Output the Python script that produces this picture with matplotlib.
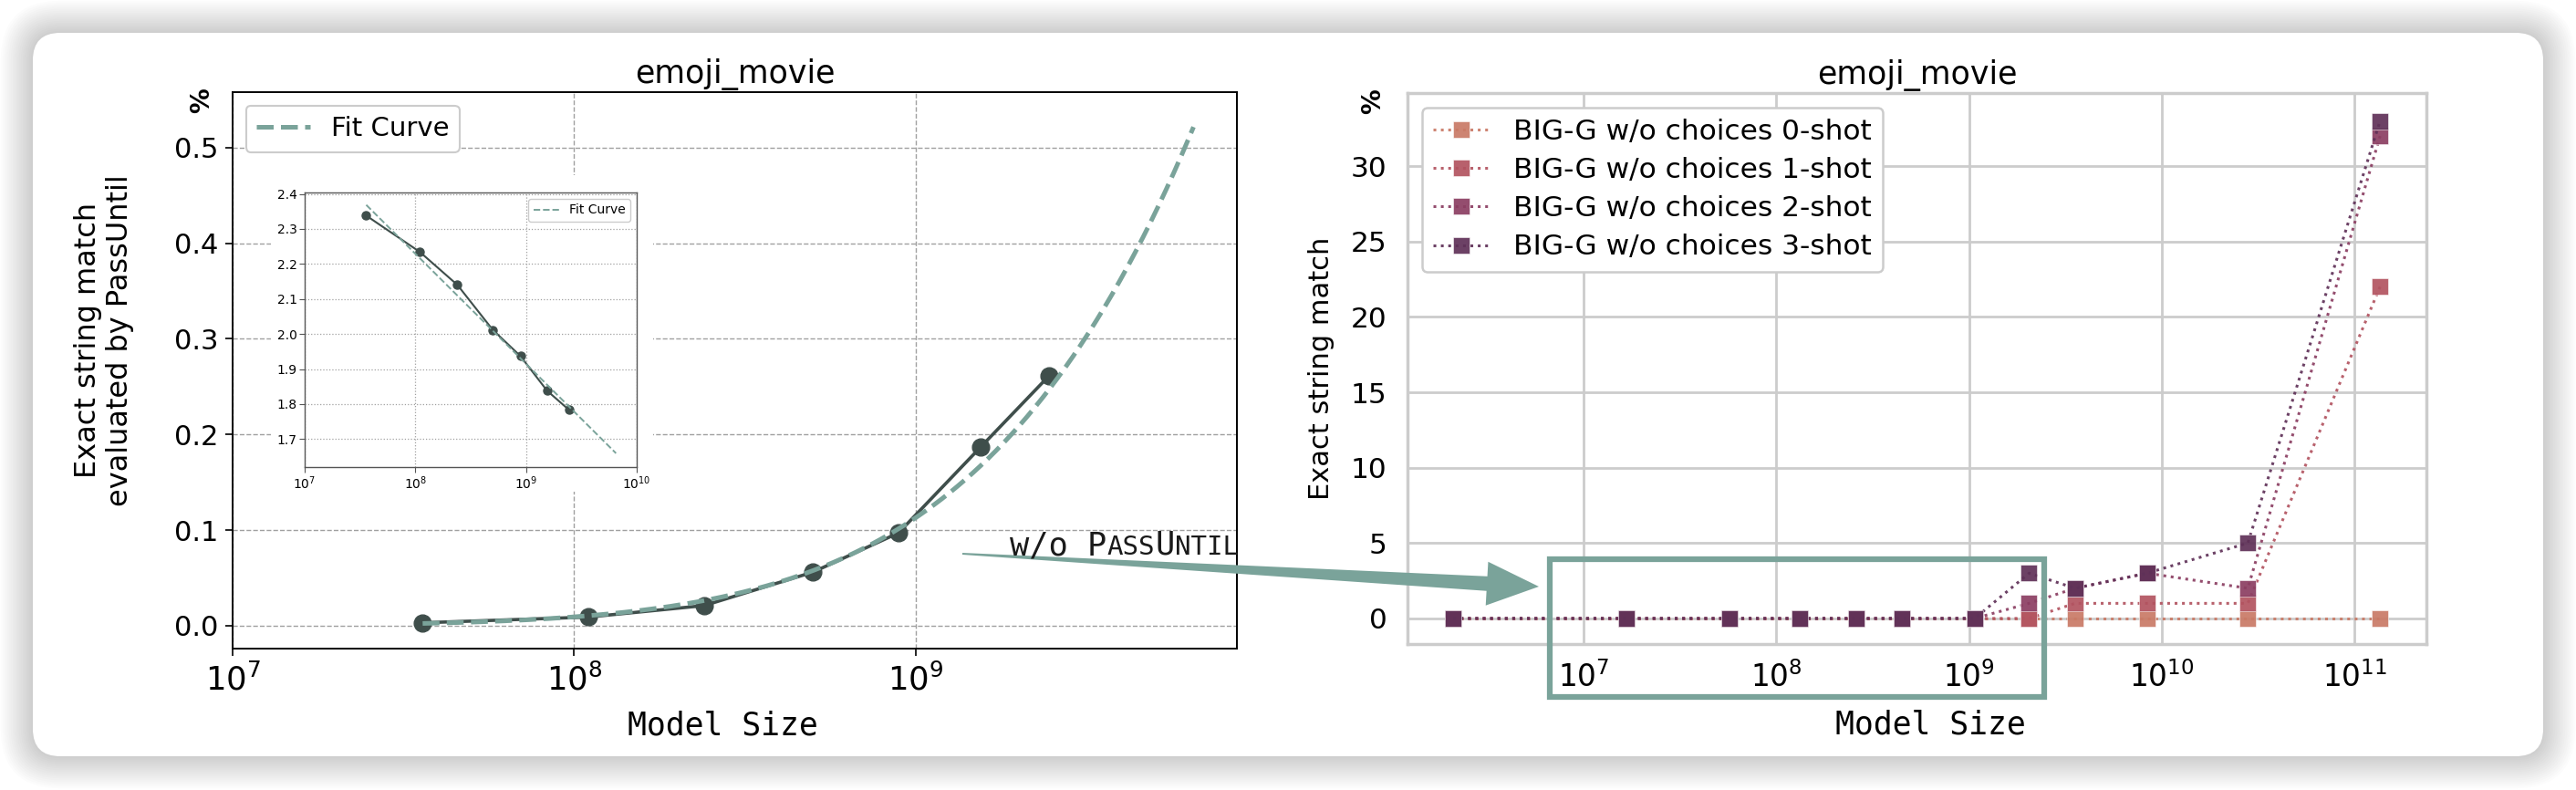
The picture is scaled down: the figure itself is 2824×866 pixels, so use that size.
import numpy as np
import matplotlib
matplotlib.use("Agg")
import matplotlib.pyplot as plt
from matplotlib.patches import FancyBboxPatch, Rectangle, Polygon
from matplotlib.transforms import IdentityTransform
from matplotlib.ticker import FixedLocator, NullLocator

# ---- data: PassUntil evaluation (left) ----
pu_sizes = [3.6e7, 1.1e8, 2.4e8, 5.0e8, 8.9e8, 1.55e9, 2.45e9]
pu_match = [0.003, 0.009, 0.021, 0.056, 0.097, 0.187, 0.261]   # %
inset_vals = [2.338, 2.234, 2.140, 2.012, 1.937, 1.838, 1.783]  # ln(-ln p)
fit_end = 6.5e9

# ---- data: BIG-G w/o choices (right) ----
bigg_sizes = [2.1e6, 1.67e7, 5.7e7, 1.32e8, 2.6e8, 4.5e8, 1.07e9,
              2.05e9, 3.55e9, 8.4e9, 2.8e10, 1.36e11]
shot_labels = ["BIG-G w/o choices 0-shot", "BIG-G w/o choices 1-shot",
               "BIG-G w/o choices 2-shot", "BIG-G w/o choices 3-shot"]
shot0 = [0, 0, 0, 0, 0, 0, 0, 0, 0, 0, 0, 0]
shot1 = [0, 0, 0, 0, 0, 0, 0, 0, 1, 1, 1, 22]
shot2 = [0, 0, 0, 0, 0, 0, 0, 1, 2, 3, 2, 32]
shot3 = [0, 0, 0, 0, 0, 0, 0, 3, 2, 3, 5, 33]
shot_colors = ["#c97a66", "#b25360", "#8b3e62", "#5f3158"]

W, H = 2824, 866
teal = "#7aa39a"
dark = "#3f4e4b"

plt.rcParams["font.family"] = "DejaVu Sans"
fig = plt.figure(figsize=(W / 100, H / 100), dpi=100)
fig.patch.set_facecolor("white")


def frac(x0, y0, x1, y1):
    # pixel box (top-left origin) -> figure fraction [l, b, w, h]
    return [x0 / W, 1 - y1 / H, (x1 - x0) / W, (y1 - y0) / H]


# card + soft shadow
r = 30
cx0, cy0, cx1, cy1 = 36, 37, 2788, 830
for i in range(16, 0, -1):
    p = r + i * 2.2
    fig.add_artist(FancyBboxPatch((cx0 + r, cy0 + r), cx1 - cx0 - 2 * r, cy1 - cy0 - 2 * r,
                                  boxstyle=f"round,pad={p},rounding_size={p}",
                                  transform=IdentityTransform(), fc="black", ec="none",
                                  alpha=0.012, zorder=-20))
fig.add_artist(FancyBboxPatch((cx0 + r, cy0 + r), cx1 - cx0 - 2 * r, cy1 - cy0 - 2 * r,
                              boxstyle=f"round,pad={r},rounding_size={r}",
                              transform=IdentityTransform(), fc="white", ec="none", zorder=-10))

# ================= left: PassUntil =================
ax = fig.add_axes(frac(255, 101, 1356, 711))
ax.set_xscale("log")
ax.set_xlim(1e7, 10 ** 9.94)
ax.set_ylim(-0.024, 0.558)
ax.grid(True, ls="--", color="#a0a0a0", lw=1.0)
ax.set_axisbelow(True)

fit_x = np.logspace(np.log10(pu_sizes[0]), np.log10(fit_end), 200)
coef = np.polyfit(np.log10(pu_sizes), inset_vals, 1)
fit_inset = np.polyval(coef, np.log10(fit_x))
fit_main = 100 * np.exp(-np.exp(fit_inset))

ax.plot(pu_sizes, pu_match, "-o", color=dark, lw=2.6, ms=13.5, zorder=3)
ax.plot(fit_x, fit_main, "--", color=teal, lw=3.6, label="Fit Curve", zorder=4)

ax.set_yticks([0.0, 0.1, 0.2, 0.3, 0.4, 0.5])
ax.xaxis.set_major_locator(FixedLocator([1e7, 1e8, 1e9]))
ax.xaxis.set_minor_locator(NullLocator())
ax.tick_params(axis="y", labelsize=22, length=6, width=1.2, pad=5)
ax.tick_params(axis="x", labelsize=25.5, length=6, width=1.2, pad=6)
for s in ax.spines.values():
    s.set_color("black")
    s.set_linewidth(1.4)
ax.set_title("emoji_movie", fontsize=25, pad=7)
ax.set_xlabel("Model Size", fontsize=25, family="DejaVu Sans Mono", va="center")
ax.xaxis.set_label_coords(0.488, -0.139)
ax.set_ylabel("Exact string match\nevaluated by PassUntil", fontsize=23, va="center")
ax.yaxis.set_label_coords(-0.128, 0.554)
ax.text(-0.031, 0.985, "%", transform=ax.transAxes, rotation=90, fontsize=20,
        fontweight="bold", ha="center", va="center")
leg = ax.legend(loc="upper left", fontsize=21, handlelength=2.0,
                borderaxespad=0.5, fancybox=True, framealpha=1)
leg.get_frame().set_edgecolor("#cccccc")
leg.get_frame().set_linewidth(1.5)

# white cover behind inset
ax.add_patch(Rectangle((297 / W, 1 - 539 / H), (716 - 297) / W, (539 - 192) / H,
                       transform=fig.transFigure, fc="white", ec="none",
                       zorder=5, clip_on=False))

# inset
ins = fig.add_axes(frac(334, 211, 698, 512))
ins.set_xscale("log")
ins.set_xlim(1e7, 1e10)
ins.set_ylim(1.62, 2.404)
ins.grid(True, ls=":", color="#a0a0a0", lw=0.9)
ins.set_axisbelow(True)
ins.plot(pu_sizes, inset_vals, "-o", color=dark, lw=1.5, ms=6.5, zorder=3)
ins.plot(fit_x, fit_inset, "--", color=teal, lw=1.4, label="Fit Curve", zorder=4)
ins.set_yticks([1.7, 1.8, 1.9, 2.0, 2.1, 2.2, 2.3, 2.4])
ins.xaxis.set_major_locator(FixedLocator([1e7, 1e8, 1e9, 1e10]))
ins.xaxis.set_minor_locator(NullLocator())
ins.tick_params(labelsize=10, length=4, width=0.8, pad=2, color="#555555")
for s in ins.spines.values():
    s.set_color("#555555")
    s.set_linewidth(1.0)
il = ins.legend(loc="upper right", fontsize=10, handlelength=2.0, framealpha=1)
il.get_frame().set_edgecolor("#cccccc")

# ================= right: BIG-G =================
bx = fig.add_axes(frac(1543, 102, 2660, 706))
bx.set_xscale("log")
bx.set_xlim(10 ** 6.085, 10 ** 11.374)
bx.set_ylim(-1.7, 34.85)
bx.grid(True, color="#cccccc", lw=2.0)
bx.set_axisbelow(True)
for vals, lab, col in zip([shot0, shot1, shot2, shot3], shot_labels, shot_colors):
    bx.plot(bigg_sizes, vals, ls=":", marker="s", color=col, lw=2.2, ms=12.5,
            mec="white", mew=0.4, alpha=0.92, label=lab)
bx.set_yticks([0, 5, 10, 15, 20, 25, 30])
bx.xaxis.set_major_locator(FixedLocator([1e7, 1e8, 1e9, 1e10, 1e11]))
bx.xaxis.set_minor_locator(NullLocator())
bx.tick_params(axis="y", labelsize=22.5, length=0, pad=16)
bx.tick_params(axis="x", labelsize=23.5, length=0, pad=14)
for s in bx.spines.values():
    s.set_color("#cccccc")
    s.set_linewidth(2.5)
bx.set_title("emoji_movie", fontsize=25, pad=7)
bx.set_xlabel("Model Size", fontsize=25, family="DejaVu Sans Mono", va="center")
bx.xaxis.set_label_coords(0.513, -0.146)
bx.set_ylabel("Exact string match", fontsize=22, va="center")
bx.yaxis.set_label_coords(-0.085, 0.5)
bx.text(-0.034, 0.985, "%", transform=bx.transAxes, rotation=90, fontsize=20,
        fontweight="bold", ha="center", va="center")
bl = bx.legend(loc="upper left", fontsize=22.5, handlelength=2.0, labelspacing=0.42,
               borderaxespad=0.5, framealpha=1, fancybox=True)
bl.get_frame().set_edgecolor("#cccccc")
bl.get_frame().set_linewidth(1.8)

# highlight box around the PassUntil range
fig.add_artist(Rectangle((1699 / W, 1 - 764 / H), (2241 - 1699) / W, (764 - 613) / H,
                         transform=fig.transFigure, fill=False, ec=teal, lw=4.5, zorder=6))

# tapered arrow
S = np.array([1055.0, 607.0])
T = np.array([1687.0, 643.0])
u = (T - S) / np.linalg.norm(T - S)
n = np.array([-u[1], u[0]])
B = T - u * 57
pts = [S + n * 1, B + n * 8, B + n * 24, T, B - n * 24, B - n * 8, S - n * 1]
pts = [(p[0] / W, 1 - p[1] / H) for p in pts]
fig.add_artist(Polygon(pts, closed=True, transform=fig.transFigure,
                       fc=teal, ec="none", zorder=6))

# "w/o PassUntil" in small caps
x0, base = 1107, 608
big, small = 25.5, 21
for piece, size in [("w/o P", big), ("ASS", small), ("U", big), ("NTIL", small)]:
    fig.text(x0 / W, 1 - base / H, piece, fontsize=size, family="DejaVu Sans Mono",
             ha="left", va="baseline", color="#1a1a1a", zorder=7)
    x0 += len(piece) * 0.602 * size * 100 / 72

fig.savefig("out.png", dpi=100)
